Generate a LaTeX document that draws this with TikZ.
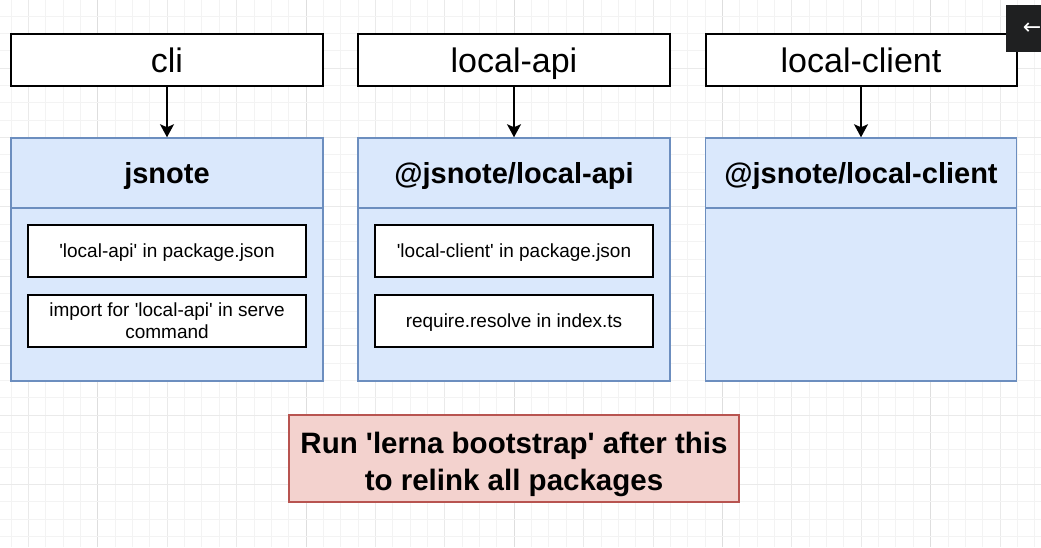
\documentclass[tikz,border=0pt]{standalone}
\usepackage{fontspec}
\setmainfont{Liberation Sans}[Ligatures=TeXOff]
\newfontfamily\symfont{DejaVu Sans}
\usetikzlibrary{arrows.meta}
\definecolor{blueFill}{HTML}{DAE8FC}
\definecolor{blueLine}{HTML}{6C8EBF}
\definecolor{redFill}{HTML}{F3D2CE}
\definecolor{redLine}{HTML}{B85450}
\definecolor{gridA}{HTML}{F3F3F3}
\definecolor{gridB}{HTML}{EAEAEA}
\definecolor{gridC}{HTML}{DEDEDE}
\definecolor{uiDark}{HTML}{1F2021}
\tikzset{
  toplabel/.style={draw=black, line width=2pt, fill=white, minimum width=312pt, minimum height=52pt, inner sep=0pt,
    text height=25pt, text depth=0pt, font=\fontsize{34}{40}\selectfont},
  pkghead/.style={draw=blueLine, line width=1.5pt, fill=blueFill, minimum width=312pt, minimum height=70pt, inner sep=0pt,
    text height=21pt, text depth=0pt, font=\fontsize{29}{34}\selectfont\bfseries},
  pkgbody/.style={draw=blueLine, line width=1.5pt, fill=blueFill, minimum width=312pt, minimum height=173pt, inner sep=0pt},
  itembox/.style={draw=black, line width=1.8pt, fill=white, minimum width=278pt, minimum height=52pt, inner sep=0pt,
    font=\fontsize{19}{22}\selectfont},
  itemone/.style={itembox, text height=13.5pt, text depth=0pt},
  itemtwo/.style={itembox, align=center},
  notebox/.style={draw=redLine, line width=1.8pt, fill=redFill, minimum width=450pt, minimum height=87pt, inner sep=0pt,
    align=center, font=\fontsize{29.5}{37}\selectfont\bfseries},
  dep/.style={line width=1.5pt, -{Stealth[length=13pt,width=14pt,inset=3pt]}}
}
\begin{document}
\begin{tikzpicture}[x=1pt,y=-1pt]
\useasboundingbox (0,0) rectangle (1041,547);
\fill[white] (0,0) rectangle (1041,547);
% grid
\foreach \k in {0,...,59}{
  \pgfmathtruncatemacro\m{mod(\k,4)}
  \pgfmathtruncatemacro\n{mod(\k,12)}
  \ifnum\n=5 \def\gc{gridC}\else\ifnum\m=1 \def\gc{gridB}\else\def\gc{gridA}\fi\fi
  \draw[\gc, line width=0.8pt] (11+17.35*\k,0) -- (11+17.35*\k,547);
}
\foreach \k in {0,...,31}{
  \pgfmathtruncatemacro\m{mod(\k,4)}
  \ifnum\m=3 \def\gc{gridB}\else\def\gc{gridA}\fi
  \draw[\gc, line width=0.8pt] (0,16+17.35*\k) -- (1041,16+17.35*\k);
}
% top labels
\node[toplabel] (cli) at (167,60) {cli};
\node[toplabel] (lapi) at (514,60) {local-api};
\node[toplabel, minimum width=311pt] (lcli) at (861,60) {local-client};
% package boxes
\node[pkgbody] (jsbody) at (167,294.5) {};
\node[pkghead] (jshead) at (167,173) {jsnote};
\node[pkgbody] (labody) at (514,294.5) {};
\node[pkghead] (lahead) at (514,173) {@jsnote/local-api};
\node[pkgbody, minimum width=311pt] (lcbody) at (861,294.5) {};
\node[pkghead, minimum width=311pt] (lchead) at (861,173) {@jsnote/local-client};
% items
\node[itemone] (js1) at (167,251) {'local-api' in package.json};
\node[itemtwo] (js2) at (167,321) {import for 'local-api' in serve\\command};
\node[itemone] (la1) at (514,251) {'local-client' in package.json};
\node[itemone] (la2) at (514,321) {require.resolve in index.ts};
% note
\node[notebox] (note) at (514,458.5) {\rule{0pt}{34pt}Run 'lerna bootstrap' after this\\to relink all packages};
% connectors
\draw[dep] (cli.south) -- (jshead.north);
\draw[dep] (lapi.south) -- (lahead.north);
\draw[dep] (lcli.south) -- (lchead.north);
% ui button
\fill[uiDark] (1006,5) rectangle (1045,52);
\node[text=white, font=\symfont\fontsize{22}{24}\selectfont, inner sep=0pt] (uiarrow) at (1032,29) {←};
\end{tikzpicture}
\end{document}
